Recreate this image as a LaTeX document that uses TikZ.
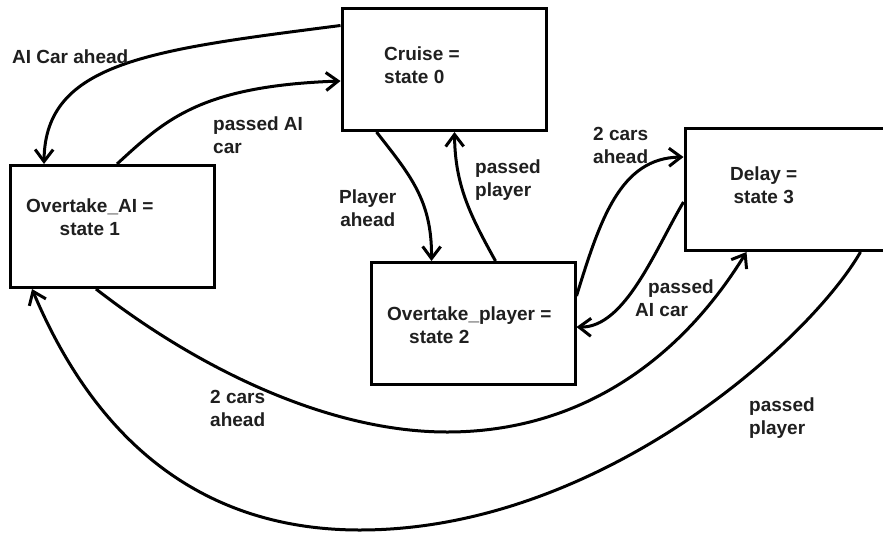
\documentclass[tikz,border=0pt]{standalone}
\usepackage{fontspec}
\setmainfont{Liberation Sans}
\usetikzlibrary{arrows.meta}
\begin{document}
\begin{tikzpicture}[x=1pt,y=-1pt,
  state/.style={draw, line width=3pt, minimum width=204pt, minimum height=122pt, inner sep=0pt},
  lbl/.style={anchor=north west, inner sep=0pt, font=\fontsize{19}{23}\selectfont\bfseries, text=black!88},
  trans/.style={line width=3pt, -{Straight Barb[length=12pt,width=18pt]}}]
\useasboundingbox (0,0) rectangle (883,533);
\fill[white] (0,0) rectangle (883,533);

% states
\node[state] (cruise) at (444,69.5) {};
\node[state] (ovai)   at (112.5,226.5) {};
\node[state] (ovpl)   at (473,323.5) {};
\node[state] (delay)  at (787,189.5) {};

% state captions
\node[lbl, align=left]   (tcruise) at (384,47)  {Cruise =\\state 0};
\node[lbl, align=center] (tovai)   at (26,199)  {Overtake\_AI =\\state 1};
\node[lbl, align=left]   (tovpl)   at (387,307) {Overtake\_player =\\\hspace*{22pt}state 2};
\node[lbl, align=center] (tdelay)  at (730,167) {Delay =\\state 3};

% transitions
\draw[trans] ([yshift=-18.5pt]cruise.north west) .. controls (150,50) and (45,62) .. ([xshift=35pt]ovai.north west);
\draw[trans] ([xshift=108pt]ovai.north west) .. controls (165,120) and (200,86) .. ([yshift=-74pt]cruise.north west);
\draw[trans] ([xshift=36pt]cruise.south west) .. controls (410,175) and (432,200) .. ([xshift=62pt]ovpl.north west);
\draw[trans] ([xshift=126pt]ovpl.north west) .. controls (470,215) and (455,185) .. ([xshift=114pt]cruise.south west);
\draw[trans] ([yshift=-35pt]ovpl.north east) .. controls (600,220) and (620,158) .. ([yshift=-30pt]delay.north west);
\draw[trans] ([yshift=-75pt]delay.north west) .. controls (655,250) and (625,328) .. ([yshift=-66pt]ovpl.north east);
\draw[trans] ([xshift=87pt]ovai.south west) .. controls (200,370) and (330,432) .. (447,432)
  .. controls (580,432) and (680,360) .. ([xshift=63pt]delay.south west);
\draw[trans] ([xshift=177pt]delay.south west) .. controls (810,340) and (600,530) .. (360,530)
  .. controls (210,530) and (100,450) .. ([xshift=23pt]ovai.south west);

% transition labels
\node[lbl]               (l1) at (12,50)   {AI Car ahead};
\node[lbl, align=left]   (l2) at (213,117) {passed AI\\car};
\node[lbl, align=center] (l3) at (339,190) {Player\\ahead};
\node[lbl, align=left]   (l4) at (475,160) {passed\\player};
\node[lbl, align=left]   (l5) at (593,127) {2 cars\\ahead};
\node[lbl, align=left]   (l6) at (635,280) {\hspace*{13pt}passed\\AI car};
\node[lbl, align=left]   (l7) at (210,390) {2 cars\\ahead};
\node[lbl, align=left]   (l8) at (749,398) {passed\\player};
\end{tikzpicture}
\end{document}
